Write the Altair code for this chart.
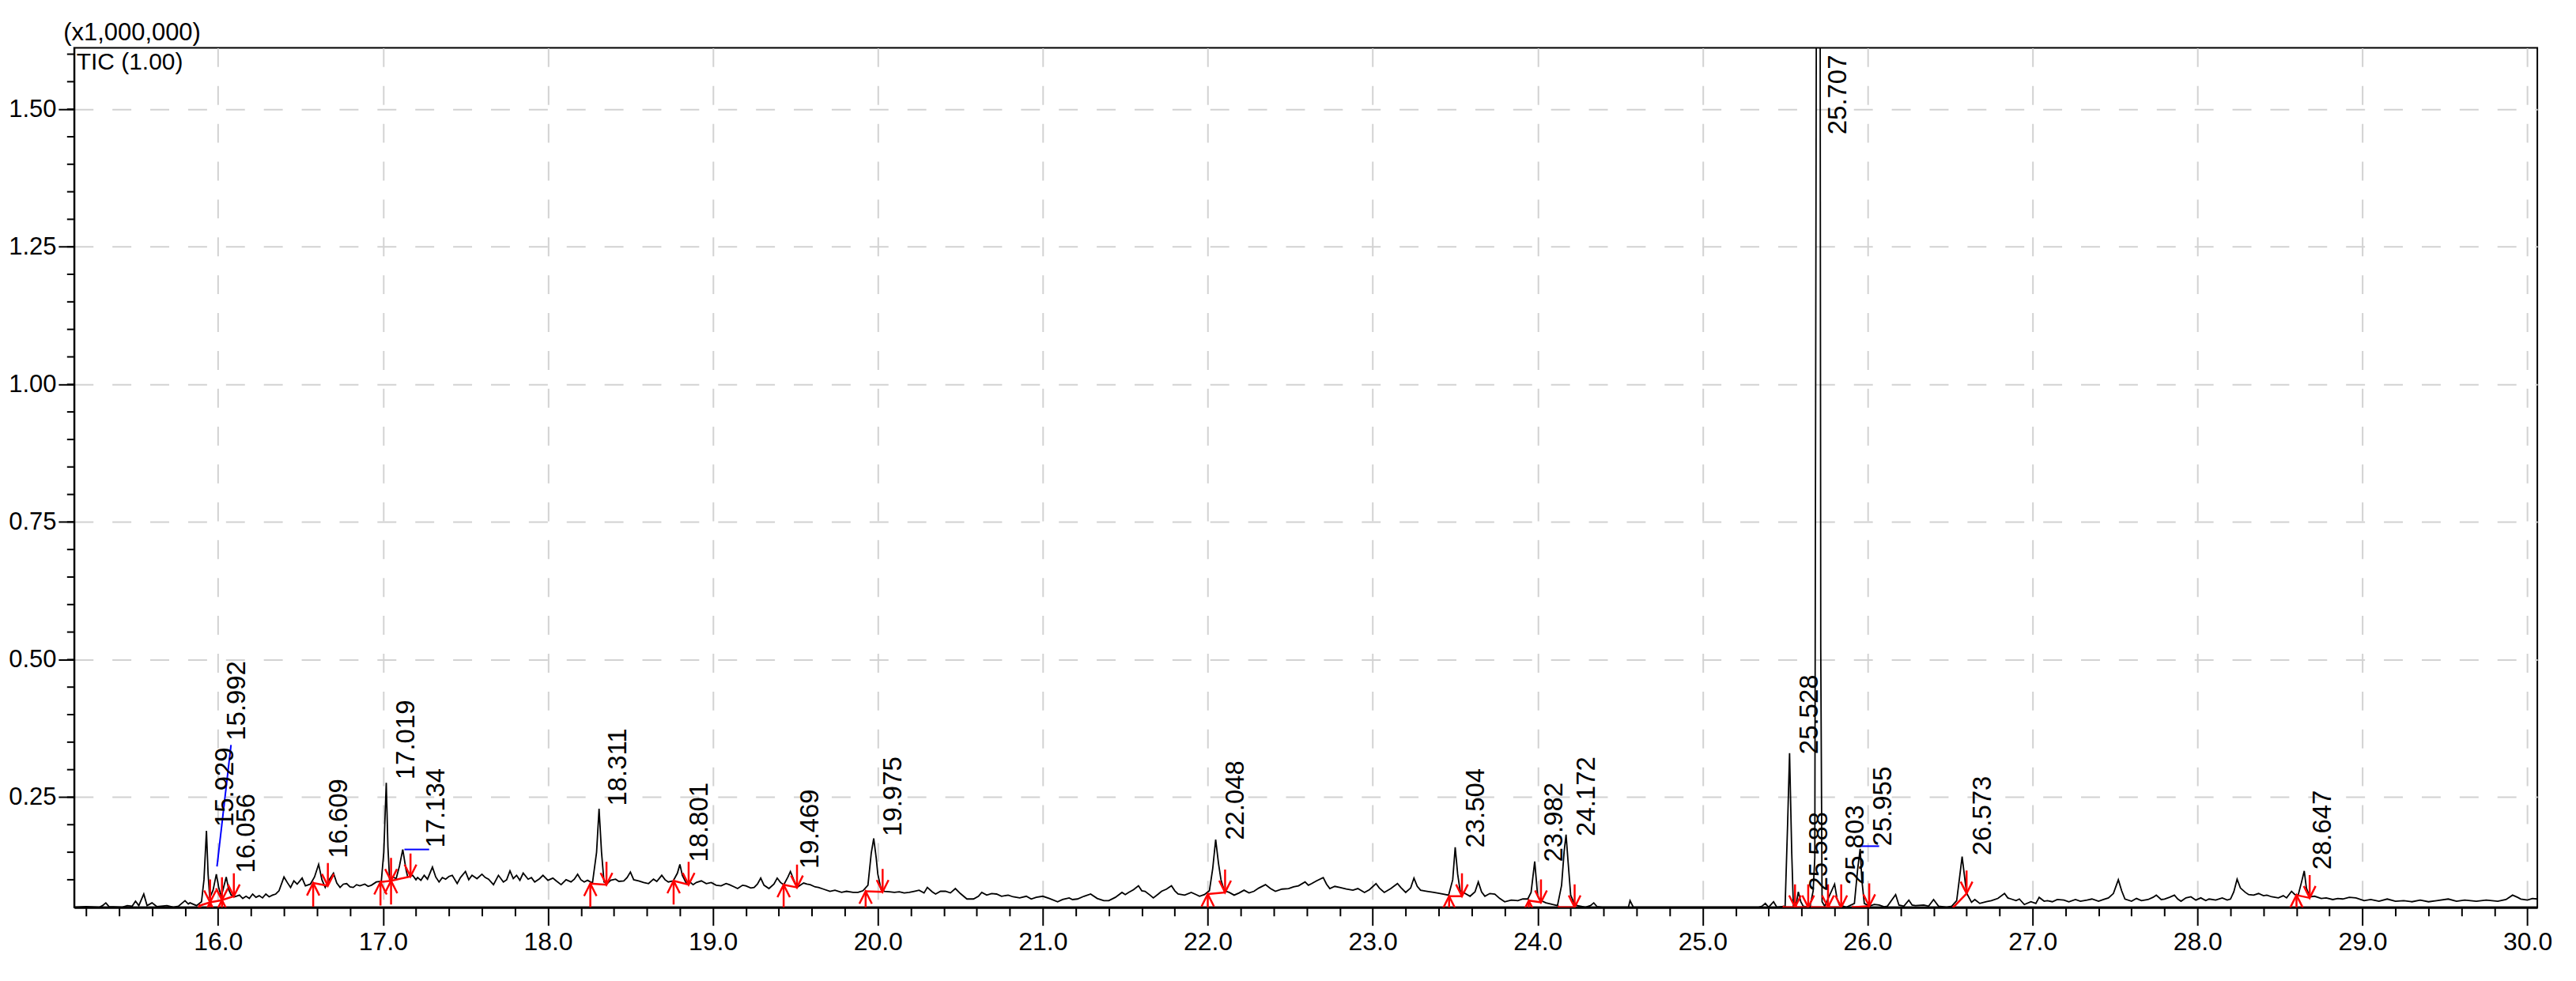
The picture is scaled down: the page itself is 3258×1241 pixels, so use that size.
import altair as alt
import pandas as pd

# ---------------- data ----------------
times = [
    15.13, 15.20, 15.28, 15.30, 15.32, 15.34, 15.42, 15.45, 15.48, 15.50, 15.52, 15.55, 15.57, 15.60, 15.63,
    15.69, 15.73, 15.76, 15.80, 15.82, 15.83, 15.87, 15.90, 15.915, 15.93, 15.94, 15.95, 15.97, 15.99, 16.005,
    16.02, 16.05, 16.065, 16.08, 16.10, 16.13, 16.15, 16.17, 16.19, 16.21, 16.23, 16.25, 16.27, 16.29, 16.31,
    16.33, 16.35, 16.37, 16.40, 16.42, 16.44, 16.46, 16.48, 16.51, 16.53, 16.56, 16.585, 16.61, 16.63, 16.65,
    16.67, 16.70, 16.72, 16.74, 16.76, 16.78, 16.80, 16.82, 16.84, 16.86, 16.89, 16.91, 16.93, 16.96, 16.99,
    17.005, 17.02, 17.03, 17.04, 17.06, 17.08, 17.10, 17.12, 17.14, 17.15, 17.18, 17.20, 17.21, 17.23, 17.25,
    17.27, 17.30, 17.32, 17.34, 17.36, 17.38, 17.40, 17.42, 17.45, 17.47, 17.50, 17.52, 17.54, 17.57, 17.60,
    17.62, 17.64, 17.67, 17.70, 17.73, 17.75, 17.77, 17.79, 17.81, 17.83, 17.85, 17.88, 17.90, 17.92, 17.95,
    17.97, 18.00, 18.03, 18.05, 18.08, 18.11, 18.14, 18.16, 18.18, 18.20, 18.22, 18.24, 18.27, 18.295, 18.31,
    18.325, 18.34, 18.36, 18.38, 18.41, 18.43, 18.46, 18.48, 18.50, 18.52, 18.55, 18.58, 18.61, 18.64, 18.66,
    18.69, 18.71, 18.73, 18.76, 18.785, 18.80, 18.815, 18.84, 18.86, 18.88, 18.90, 18.93, 18.96, 18.99, 19.02,
    19.05, 19.08, 19.10, 19.13, 19.15, 19.18, 19.20, 19.23, 19.25, 19.27, 19.29, 19.31, 19.34, 19.37, 19.39,
    19.41, 19.43, 19.455, 19.47, 19.49, 19.51, 19.53, 19.55, 19.57, 19.59, 19.62, 19.64, 19.67, 19.71, 19.74,
    19.78, 19.81, 19.85, 19.88, 19.91, 19.94, 19.96, 19.975, 19.99, 20.00, 20.02, 20.04, 20.07, 20.10, 20.13,
    20.16, 20.19, 20.22, 20.25, 20.28, 20.30, 20.33, 20.35, 20.38, 20.41, 20.44, 20.47, 20.50, 20.54, 20.58,
    20.61, 20.63, 20.66, 20.69, 20.72, 20.75, 20.79, 20.82, 20.86, 20.90, 20.93, 20.96, 21.00, 21.04, 21.09,
    21.12, 21.16, 21.18, 21.21, 21.25, 21.29, 21.33, 21.37, 21.40, 21.44, 21.48, 21.50, 21.52, 21.55, 21.58,
    21.60, 21.62, 21.65, 21.67, 21.70, 21.72, 21.75, 21.78, 21.80, 21.82, 21.86, 21.90, 21.93, 21.95, 21.98,
    22.01, 22.03, 22.048, 22.065, 22.08, 22.10, 22.13, 22.16, 22.19, 22.22, 22.25, 22.28, 22.31, 22.35, 22.38,
    22.41, 22.45, 22.49, 22.52, 22.55, 22.59, 22.61, 22.63, 22.66, 22.70, 22.72, 22.74, 22.77, 22.80, 22.84,
    22.88, 22.91, 22.95, 22.98, 23.02, 23.04, 23.07, 23.11, 23.15, 23.17, 23.20, 23.23, 23.25, 23.27, 23.29,
    23.33, 23.37, 23.41, 23.46, 23.485, 23.50, 23.515, 23.53, 23.56, 23.59, 23.62, 23.64, 23.66, 23.68, 23.71,
    23.74, 23.77, 23.80, 23.84, 23.88, 23.91, 23.94, 23.96, 23.982, 24.00, 24.02, 24.05, 24.09, 24.12, 24.145,
    24.16, 24.172, 24.185, 24.20, 24.22, 24.24, 24.29, 24.32, 24.34, 24.36, 24.39, 24.55, 24.56, 24.58, 25.02,
    25.34, 25.36, 25.38, 25.40, 25.43, 25.45, 25.50, 25.515, 25.527, 25.54, 25.55, 25.57, 25.58, 25.595, 25.61,
    25.65, 25.67, 25.68, 25.69, 25.712, 25.716, 25.724, 25.74, 25.77, 25.80, 25.815, 25.83, 25.87, 25.92, 25.94,
    25.955, 25.965, 25.98, 26.01, 26.04, 26.07, 26.10, 26.12, 26.17, 26.19, 26.22, 26.25, 26.27, 26.29, 26.34,
    26.37, 26.40, 26.43, 26.48, 26.51, 26.54, 26.56, 26.573, 26.59, 26.60, 26.63, 26.65, 26.68, 26.72, 26.75,
    26.79, 26.83, 26.85, 26.87, 26.90, 26.92, 26.95, 26.99, 27.02, 27.04, 27.07, 27.09, 27.12, 27.15, 27.19,
    27.22, 27.26, 27.29, 27.33, 27.36, 27.40, 27.43, 27.46, 27.49, 27.52, 27.54, 27.56, 27.60, 27.63, 27.66,
    27.70, 27.73, 27.75, 27.78, 27.80, 27.83, 27.86, 27.88, 27.90, 27.93, 27.96, 27.99, 28.02, 28.05, 28.07,
    28.11, 28.15, 28.18, 28.20, 28.22, 28.24, 28.26, 28.29, 28.31, 28.34, 28.37, 28.40, 28.42, 28.45, 28.49,
    28.52, 28.54, 28.57, 28.59, 28.61, 28.63, 28.647, 28.66, 28.68, 28.71, 28.75, 28.78, 28.82, 28.85, 28.88,
    28.92, 28.96, 29.01, 29.05, 29.10, 29.15, 29.20, 29.25, 29.30, 29.35, 29.40, 29.45, 29.52, 29.57, 29.62,
    29.69, 29.75, 29.82, 29.87, 29.91, 29.94, 29.96, 30.00, 30.03, 30.06,
]
intensity = [
    0.050, 0.051, 0.050, 0.053, 0.058, 0.051, 0.050, 0.053, 0.052, 0.061, 0.053, 0.074, 0.053, 0.058, 0.051,
    0.053, 0.050, 0.052, 0.062, 0.056, 0.058, 0.053, 0.060, 0.100, 0.189, 0.110, 0.067, 0.081, 0.110, 0.085,
    0.070, 0.105, 0.082, 0.072, 0.069, 0.072, 0.066, 0.070, 0.066, 0.074, 0.068, 0.071, 0.067, 0.074, 0.069,
    0.072, 0.074, 0.080, 0.105, 0.095, 0.086, 0.098, 0.092, 0.103, 0.089, 0.092, 0.105, 0.128, 0.100, 0.086,
    0.098, 0.112, 0.094, 0.086, 0.092, 0.093, 0.087, 0.086, 0.091, 0.089, 0.092, 0.088, 0.090, 0.096, 0.097,
    0.150, 0.276, 0.160, 0.101, 0.105, 0.102, 0.125, 0.155, 0.118, 0.105, 0.108, 0.100, 0.104, 0.099, 0.108,
    0.101, 0.123, 0.105, 0.096, 0.104, 0.101, 0.106, 0.108, 0.093, 0.104, 0.115, 0.100, 0.108, 0.102, 0.110,
    0.104, 0.101, 0.091, 0.108, 0.096, 0.100, 0.116, 0.102, 0.108, 0.099, 0.112, 0.101, 0.104, 0.096, 0.102,
    0.108, 0.099, 0.103, 0.098, 0.091, 0.100, 0.096, 0.101, 0.110, 0.100, 0.096, 0.099, 0.094, 0.150, 0.229,
    0.150, 0.096, 0.093, 0.099, 0.101, 0.097, 0.098, 0.104, 0.114, 0.100, 0.098, 0.095, 0.093, 0.101, 0.097,
    0.108, 0.100, 0.096, 0.098, 0.112, 0.128, 0.108, 0.093, 0.096, 0.091, 0.095, 0.098, 0.093, 0.095, 0.090,
    0.089, 0.093, 0.091, 0.087, 0.084, 0.090, 0.089, 0.085, 0.086, 0.092, 0.103, 0.090, 0.084, 0.092, 0.103,
    0.095, 0.091, 0.105, 0.115, 0.100, 0.086, 0.090, 0.094, 0.092, 0.091, 0.087, 0.086, 0.083, 0.079, 0.081,
    0.077, 0.079, 0.077, 0.077, 0.080, 0.090, 0.148, 0.175, 0.140, 0.110, 0.082, 0.079, 0.078, 0.077, 0.078,
    0.076, 0.077, 0.079, 0.081, 0.076, 0.086, 0.078, 0.074, 0.079, 0.079, 0.076, 0.084, 0.075, 0.065, 0.065,
    0.070, 0.077, 0.072, 0.075, 0.074, 0.070, 0.072, 0.069, 0.067, 0.070, 0.065, 0.068, 0.070, 0.066, 0.060,
    0.064, 0.067, 0.064, 0.065, 0.070, 0.074, 0.066, 0.062, 0.062, 0.068, 0.077, 0.073, 0.077, 0.082, 0.089,
    0.080, 0.079, 0.072, 0.067, 0.074, 0.079, 0.083, 0.089, 0.080, 0.074, 0.072, 0.077, 0.073, 0.070, 0.073,
    0.080, 0.120, 0.173, 0.130, 0.100, 0.080, 0.077, 0.072, 0.076, 0.081, 0.076, 0.079, 0.085, 0.091, 0.084,
    0.079, 0.083, 0.084, 0.087, 0.089, 0.096, 0.090, 0.093, 0.098, 0.104, 0.092, 0.084, 0.088, 0.086, 0.083,
    0.081, 0.084, 0.077, 0.082, 0.093, 0.085, 0.077, 0.084, 0.093, 0.086, 0.077, 0.085, 0.103, 0.088, 0.081,
    0.079, 0.077, 0.075, 0.072, 0.100, 0.159, 0.110, 0.080, 0.075, 0.070, 0.078, 0.096, 0.078, 0.070, 0.075,
    0.074, 0.066, 0.060, 0.063, 0.062, 0.065, 0.065, 0.077, 0.133, 0.070, 0.062, 0.058, 0.055, 0.053, 0.090,
    0.150, 0.182, 0.130, 0.072, 0.058, 0.053, 0.050, 0.053, 0.058, 0.051, 0.050, 0.050, 0.062, 0.050, 0.050,
    0.050, 0.052, 0.057, 0.050, 0.060, 0.050, 0.052, 0.200, 0.330, 0.150, 0.052, 0.060, 0.078, 0.060, 0.052,
    0.050, 0.080, 0.140, 1.800, 1.800, 0.520, 0.060, 0.052, 0.072, 0.092, 0.065, 0.054, 0.050, 0.057, 0.120,
    0.156, 0.100, 0.057, 0.052, 0.055, 0.054, 0.051, 0.052, 0.073, 0.054, 0.052, 0.063, 0.054, 0.053, 0.054,
    0.052, 0.064, 0.052, 0.050, 0.052, 0.062, 0.110, 0.142, 0.100, 0.076, 0.059, 0.064, 0.057, 0.060, 0.062,
    0.066, 0.075, 0.067, 0.065, 0.062, 0.065, 0.055, 0.060, 0.057, 0.068, 0.061, 0.062, 0.060, 0.064, 0.063,
    0.060, 0.064, 0.061, 0.063, 0.065, 0.061, 0.064, 0.067, 0.075, 0.100, 0.080, 0.065, 0.061, 0.066, 0.062,
    0.064, 0.068, 0.072, 0.064, 0.065, 0.068, 0.072, 0.065, 0.061, 0.067, 0.069, 0.063, 0.067, 0.062, 0.065,
    0.063, 0.067, 0.063, 0.065, 0.078, 0.101, 0.085, 0.077, 0.073, 0.072, 0.075, 0.071, 0.072, 0.069, 0.067,
    0.071, 0.067, 0.079, 0.073, 0.072, 0.095, 0.116, 0.085, 0.069, 0.070, 0.066, 0.067, 0.064, 0.066, 0.065,
    0.068, 0.067, 0.062, 0.064, 0.061, 0.065, 0.061, 0.062, 0.060, 0.063, 0.060, 0.062, 0.065, 0.061, 0.063,
    0.061, 0.063, 0.061, 0.064, 0.072, 0.068, 0.065, 0.063, 0.066, 0.065,
]

peak_names = ["15.929", "15.992", "16.056", "16.609", "17.019", "17.134", "18.311", "18.801", "19.469",
              "19.975", "22.048", "23.504", "23.982", "24.172", "25.528", "25.588", "25.707", "25.803",
              "25.955", "26.573", "28.647"]
label_t = [16.047, 16.118, 16.175, 16.737, 17.143, 17.325, 18.429, 18.919, 19.593, 20.096, 22.171,
           23.627, 24.100, 24.298, 25.652, 25.709, 25.823, 25.926, 26.095, 26.700, 28.760]
label_v = [0.196, 0.353, 0.112, 0.139, 0.282, 0.158, 0.234, 0.132, 0.120, 0.179, 0.172,
           0.158, 0.132, 0.179, 0.328, 0.079, 1.454, 0.091, 0.161, 0.144, 0.118]

start_t = [15.888, 15.952, 16.024, 16.577, 16.985, 17.049, 18.257, 18.762, 19.429, 19.926, 22.000,
           23.463, 23.946, 24.127, 25.490, 25.570, 25.660, 25.770, 25.910, 26.520, 28.600]
start_v = [0.053, 0.059, 0.063, 0.094, 0.096, 0.098, 0.093, 0.098, 0.091, 0.079, 0.074,
           0.070, 0.062, 0.050, 0.050, 0.050, 0.050, 0.050, 0.050, 0.050, 0.072]
end_t = [15.952, 16.024, 16.096, 16.666, 17.049, 17.167, 18.355, 18.853, 19.510, 20.029, 22.105,
         23.541, 24.020, 24.224, 25.560, 25.640, 25.760, 25.840, 26.010, 26.600, 28.680]
end_v = [0.059, 0.063, 0.070, 0.089, 0.098, 0.106, 0.091, 0.091, 0.086, 0.078, 0.077,
         0.070, 0.059, 0.050, 0.050, 0.050, 0.050, 0.050, 0.052, 0.075, 0.067]

# blue label leader lines
lead_t = [15.994, 17.130, 25.950]
lead_v = [0.124, 0.155, 0.161]
lead_t2 = [16.079, 17.280, 26.070]
lead_v2 = [0.345, 0.155, 0.161]

x_tick_values = [round(15.2 + 0.2 * i, 1) for i in range(75)]
y_major_values = [0.25, 0.50, 0.75, 1.00, 1.25, 1.50]
y_minor_values = [round(0.10 + 0.05 * i, 2) for i in range(31)]

X_DOMAIN = [15.128, 30.06]
Y_DOMAIN = [0.05, 1.6117]

FONT = "Liberation Sans, Arial, sans-serif"

# ---------------- axes ----------------
major_x = "round(datum.value * 10) % 10 == 0"

x_axis = alt.Axis(
    values=x_tick_values, title=None,
    labelExpr=f"({major_x}) ? format(datum.value, '.1f') : ''",
    labelFont=FONT, labelFontSize=32, labelColor="black", labelPadding=6,
    labelOverlap=False, labelFlush=False,
    tickSize={"condition": {"test": major_x, "value": 23}, "value": 11},
    tickColor="black", tickWidth=2,
    domainColor="black", domainWidth=3,
    grid=True, gridColor="#d2d2d2", gridWidth=2, gridDash=[24, 24],
    gridOpacity={"condition": {"test": major_x, "value": 1}, "value": 0},
)
y_axis = alt.Axis(
    values=y_major_values, format=".2f",
    title="(x1,000,000)", titleAngle=0, titleAlign="left", titleBaseline="bottom",
    titleX=-14, titleY=-3, titleFont=FONT, titleFontSize=31, titleFontWeight="normal",
    titleColor="black",
    labelFont=FONT, labelFontSize=31, labelColor="black", labelPadding=3,
    labelOverlap=False, labelFlush=False,
    tickSize=20, tickColor="black", tickWidth=2,
    domainColor="black", domainWidth=2,
    grid=True, gridColor="#d2d2d2", gridWidth=2, gridDash=[24, 24],
)

x_enc = alt.X("t:Q", scale=alt.Scale(domain=X_DOMAIN, nice=False, zero=False), axis=x_axis)
y_enc = alt.Y("v:Q", scale=alt.Scale(domain=Y_DOMAIN, nice=False, zero=False), axis=y_axis)

# ---------------- layers ----------------
trace_df = pd.DataFrame({"t": times, "v": intensity})
trace = alt.Chart(trace_df).mark_line(color="black", strokeWidth=1.8, clip=True).encode(x=x_enc, y=y_enc)

# minor ticks of the intensity axis (every 0.05)
minor_df = pd.DataFrame({"v": y_minor_values})
y_minor = alt.Chart(minor_df).mark_rule(color="black", strokeWidth=2).encode(
    y="v:Q", x=alt.value(0), x2=alt.value(-9))

seg_df = pd.DataFrame({"t": start_t, "v": start_v, "t2": end_t, "v2": end_v})
red_base = alt.Chart(seg_df).mark_rule(color="red", strokeWidth=2.5, clip=True).encode(
    x="t:Q", y="v:Q", x2="t2:Q", y2="v2:Q")

start_df = pd.DataFrame({"t": start_t, "v": start_v})
end_df = pd.DataFrame({"t": end_t, "v": end_v})

up_stem = alt.Chart(start_df).mark_rule(color="red", strokeWidth=2.5, y2Offset=30, clip=True).encode(
    x="t:Q", y="v:Q", y2=alt.Y2("v:Q"))
up_head = alt.Chart(start_df).mark_point(
    shape="M-0.5,1L0,0L0.5,1", size=1000, filled=False, stroke="red", strokeWidth=2.5,
    opacity=1, clip=True).encode(x="t:Q", y="v:Q")

down_stem = alt.Chart(end_df).mark_rule(color="red", strokeWidth=2.5, y2Offset=-29, clip=True).encode(
    x="t:Q", y="v:Q", y2=alt.Y2("v:Q"))
down_head = alt.Chart(end_df).mark_point(
    shape="M-0.5,-1L0,0L0.5,-1", size=900, filled=False, stroke="red", strokeWidth=2.5,
    opacity=1, clip=True).encode(x="t:Q", y="v:Q")

lead_df = pd.DataFrame({"t": lead_t, "v": lead_v, "t2": lead_t2, "v2": lead_v2})
leaders = alt.Chart(lead_df).mark_rule(color="#0000ff", strokeWidth=2).encode(
    x="t:Q", y="v:Q", x2="t2:Q", y2="v2:Q")

lab_df = pd.DataFrame({"name": peak_names, "t": label_t, "v": label_v})
labels = alt.Chart(lab_df).mark_text(
    angle=270, align="left", baseline="middle", font=FONT, fontSize=33, color="black"
).encode(x="t:Q", y="v:Q", text="name:N")

tic_df = pd.DataFrame({"txt": ["TIC (1.00)"]})
tic = alt.Chart(tic_df).mark_text(
    align="left", baseline="top", font=FONT, fontSize=30, color="black"
).encode(x=alt.value(3), y=alt.value(4), text="txt:N")

chart = alt.layer(
    trace, y_minor, red_base, up_stem, up_head, down_stem, down_head, leaders, labels, tic
).properties(
    width=3123, height=1090,
    autosize=alt.AutoSizeParams(type="none"),
    padding={"left": 86, "top": 51, "right": 41, "bottom": 92},
).configure_view(stroke="black", strokeWidth=2)

chart.save("out.html", embed_options={"renderer": "svg", "actions": False})
